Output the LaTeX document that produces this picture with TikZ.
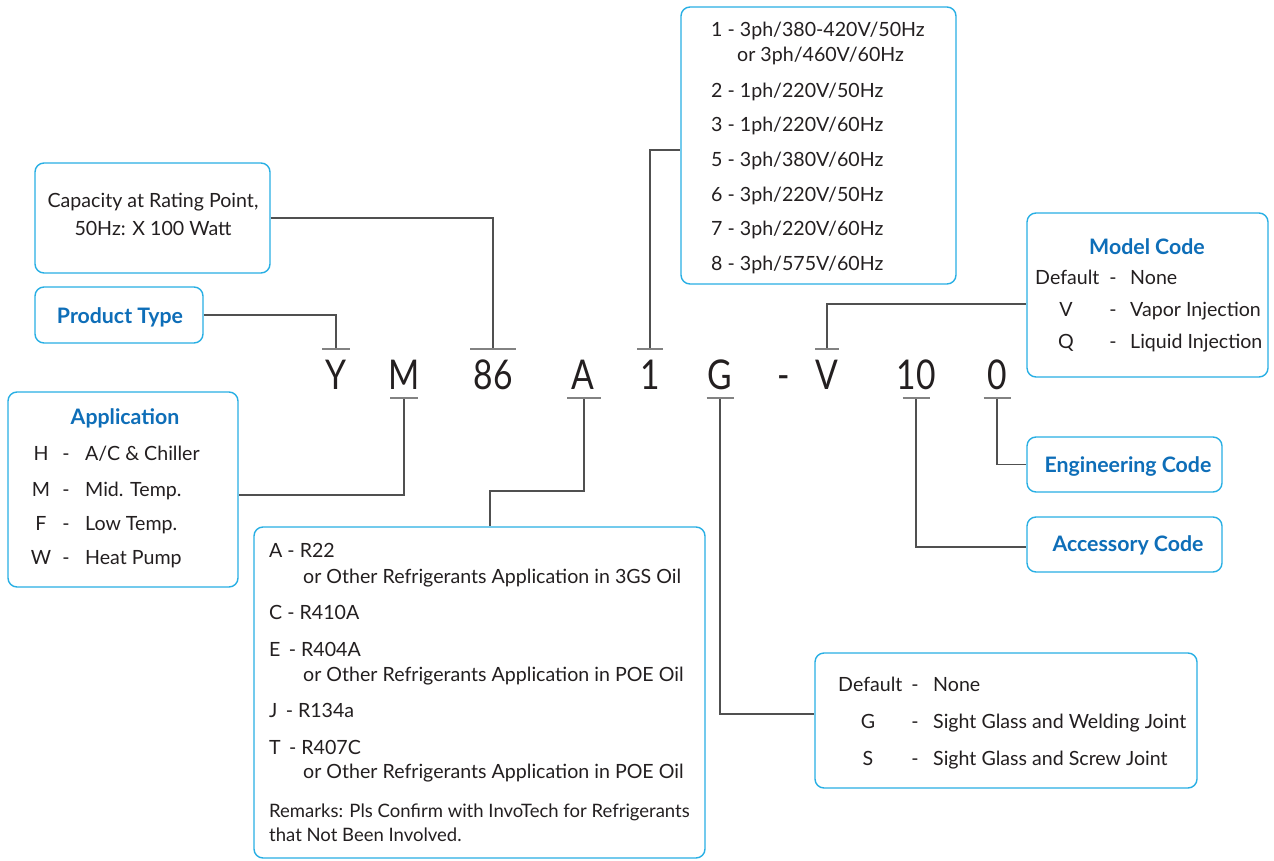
\documentclass[tikz,border=0pt]{standalone}
\usepackage{fontspec}
\setmainfont{Lato}
\definecolor{boxc}{RGB}{40,175,228}
\definecolor{titc}{RGB}{14,110,184}
\definecolor{txtc}{RGB}{35,31,32}
\definecolor{linec}{RGB}{80,80,80}
\definecolor{barc}{RGB}{130,130,130}
\begin{document}
\begin{tikzpicture}[x=1pt,y=-1pt,
  box/.style={draw=boxc, line width=1.4pt, rounded corners=9pt, inner sep=0pt, fill=white},
  txt/.style={font=\fontsize{19.6}{23}\selectfont, text=txtc, inner sep=0pt, text height=14.1pt, text depth=0pt, anchor=west},
  ctr/.style={txt, anchor=center},
  small/.style={txt, font=\fontsize{18.5}{22}\selectfont, text height=13.3pt},
  title/.style={ctr, font=\fontsize{21.3}{25}\selectfont\bfseries, text=titc, text height=15.3pt},
  code/.style={font=\fontsize{41}{41}\selectfont, text=txtc, inner sep=0pt, text height=29.5pt, text depth=0pt, anchor=center},
  conn/.style={draw=linec, line width=1.1pt},
  bar/.style={draw=barc, line width=1.6pt}]
\useasboundingbox (0,0) rectangle (1274,861);

% boxes
\node[box, minimum width=235pt, minimum height=110pt] (cap) at (152.5,218) {};
\node[box, minimum width=168pt, minimum height=56pt] (prod) at (119,315) {};
\node[box, minimum width=230pt, minimum height=195pt] (app) at (123,489.5) {};
\node[box, minimum width=451pt, minimum height=331pt] (refr) at (479.5,692.5) {};
\node[box, minimum width=275pt, minimum height=277pt] (volt) at (818.5,145.5) {};
\node[box, minimum width=241pt, minimum height=164pt] (model) at (1147.5,295) {};
\node[box, minimum width=195pt, minimum height=55pt] (eng) at (1124.5,464.5) {};
\node[box, minimum width=195pt, minimum height=55pt] (acc) at (1124.5,544.5) {};
\node[box, minimum width=382pt, minimum height=135pt] (sight) at (1006,720.5) {};

% code letters
\node[code] (lY) at (336,374.5) {\scalebox{0.82}[1]{Y}};
\node[code] (lM) at (404,374.5) {\scalebox{0.82}[1]{M}};
\node[code] (l86) at (493,374.5) {\scalebox{0.82}[1]{86}};
\node[code] (lA) at (583,374.5) {\scalebox{0.82}[1]{A}};
\node[code] (l1) at (650,374.5) {\scalebox{0.82}[1]{1}};
\node[code] (lG) at (720,374.5) {\scalebox{0.82}[1]{G}};
\node[code] (lD) at (784,374.5) {\scalebox{0.82}[1]{-}};
\node[code] (lV) at (827,374.5) {\scalebox{0.82}[1]{V}};
\node[code] (l10) at (916,374.5) {\scalebox{0.82}[1]{10}};
\node[code] (l0) at (997,374.5) {\scalebox{0.82}[1]{0}};

% bar points
\coordinate (tY) at (336,349);
\coordinate (t86) at (493,349);
\coordinate (t1) at (650,349);
\coordinate (tV) at (827,349);
\coordinate (tM) at (404,398);
\coordinate (tA) at (584,398);
\coordinate (tG) at (720,398);
\coordinate (t10) at (916,398);
\coordinate (t0) at (997,398);
\coordinate (aknee) at (490,491);

% connectors
\draw[conn] (prod.east) -| (tY);
\draw[conn] (cap.east) -| (t86);
\draw[conn] (t1) |- ([yshift=-4.5pt]volt.west);
\draw[conn] (tV) |- ([yshift=-9pt]model.west);
\draw[conn] (tM) |- ([yshift=-5.5pt]app.east);
\draw[conn] (tA) |- (aknee) -- (aknee |- refr.north);
\draw[conn] (tG) |- ([yshift=6.5pt]sight.west);
\draw[conn] (t10) |- ([yshift=-2.5pt]acc.west);
\draw[conn] (t0) |- (eng.west);

% bars
\draw[bar] ([xshift=-14pt]tY) -- ([xshift=14pt]tY);
\draw[bar] ([xshift=-23pt]t86) -- ([xshift=23pt]t86);
\draw[bar] ([xshift=-13pt]t1) -- ([xshift=13pt]t1);
\draw[bar] ([xshift=-12pt]tV) -- ([xshift=12pt]tV);
\draw[bar] ([xshift=-14pt]tM) -- ([xshift=14pt]tM);
\draw[bar] ([xshift=-17pt]tA) -- ([xshift=17pt]tA);
\draw[bar] ([xshift=-13.5pt]tG) -- ([xshift=13.5pt]tG);
\draw[bar] ([xshift=-13.5pt]t10) -- ([xshift=13.5pt]t10);
\draw[bar] ([xshift=-13.5pt]t0) -- ([xshift=13.5pt]t0);

% capacity
\node[ctr] (capa) at (153,200) {Capacity at Rating Point,};
\node[ctr] (capb) at (153,228.5) {50Hz: X 100 Watt};
% product
\node[title] (prodt) at (120,316) {Product Type};
% application
\node[title] (appt) at (125,417) {Application};
\node[ctr] (appk1) at (41,453) {H};
\node[ctr] (appk2) at (41,489) {M};
\node[ctr] (appk3) at (41,523) {F};
\node[ctr] (appk4) at (41,557) {W};
\node[ctr] (appd1) at (66,453) {-};
\node[ctr] (appd2) at (66,489) {-};
\node[ctr] (appd3) at (66,523) {-};
\node[ctr] (appd4) at (66,557) {-};
\node[txt] (appv1) at (85,453) {A/C \& Chiller};
\node[txt] (appv2) at (85,489) {Mid. Temp.};
\node[txt] (appv3) at (85,523) {Low Temp.};
\node[txt] (appv4) at (85,557) {Heat Pump};
% refrigerants
\node[txt] (r1) at (269,550) {A - R22};
\node[txt] (r1b) at (303,576) {or Other Refrigerants Application in 3GS Oil};
\node[txt] (r2) at (269,612) {C - R410A};
\node[txt] (r3) at (269,649.5) {E\, - R404A};
\node[txt] (r3b) at (303,674.5) {or Other Refrigerants Application in POE Oil};
\node[txt] (r4) at (269,710) {J\, - R134a};
\node[txt] (r5) at (269,747) {T\, - R407C};
\node[txt] (r5b) at (303,771) {or Other Refrigerants Application in POE Oil};
\node[small] (rm1) at (269,811) {Remarks: Pls Confirm with InvoTech for Refrigerants};
\node[small] (rm2) at (269,835) {that Not Been Involved.};
% voltage
\node[txt] (v1) at (711,29) {1 - 3ph/380-420V/50Hz};
\node[txt] (v1b) at (737,54) {or 3ph/460V/60Hz};
\node[txt] (v2) at (711,90) {2 - 1ph/220V/50Hz};
\node[txt] (v3) at (711,124) {3 - 1ph/220V/60Hz};
\node[txt] (v5) at (711,159) {5 - 3ph/380V/60Hz};
\node[txt] (v6) at (711,194) {6 - 3ph/220V/50Hz};
\node[txt] (v7) at (711,228) {7 - 3ph/220V/60Hz};
\node[txt] (v8) at (711,263) {8 - 3ph/575V/60Hz};
% model code
\node[title] (modt) at (1147,247) {Model Code};
\node[txt] (mk1) at (1035,277) {Default};
\node[ctr] (mk2) at (1066,309) {V};
\node[ctr] (mk3) at (1066,341) {Q};
\node[ctr] (md1) at (1113,277) {-};
\node[ctr] (md2) at (1113,309) {-};
\node[ctr] (md3) at (1113,341) {-};
\node[txt] (mv1) at (1130,277) {None};
\node[txt] (mv2) at (1130,309) {Vapor Injection};
\node[txt] (mv3) at (1130,341) {Liquid Injection};
% engineering / accessory
\node[title] (engt) at (1128,464.5) {Engineering Code};
\node[title] (acct) at (1128,544) {Accessory Code};
% sight glass
\node[txt] (sk1) at (838,684) {Default};
\node[ctr] (sk2) at (868,721) {G};
\node[ctr] (sk3) at (868,758) {S};
\node[ctr] (sd1) at (915,684) {-};
\node[ctr] (sd2) at (915,721) {-};
\node[ctr] (sd3) at (915,758) {-};
\node[txt] (sv1) at (933,684) {None};
\node[txt] (sv2) at (933,721) {Sight Glass and Welding Joint};
\node[txt] (sv3) at (933,758) {Sight Glass and Screw Joint};
\end{tikzpicture}
\end{document}
